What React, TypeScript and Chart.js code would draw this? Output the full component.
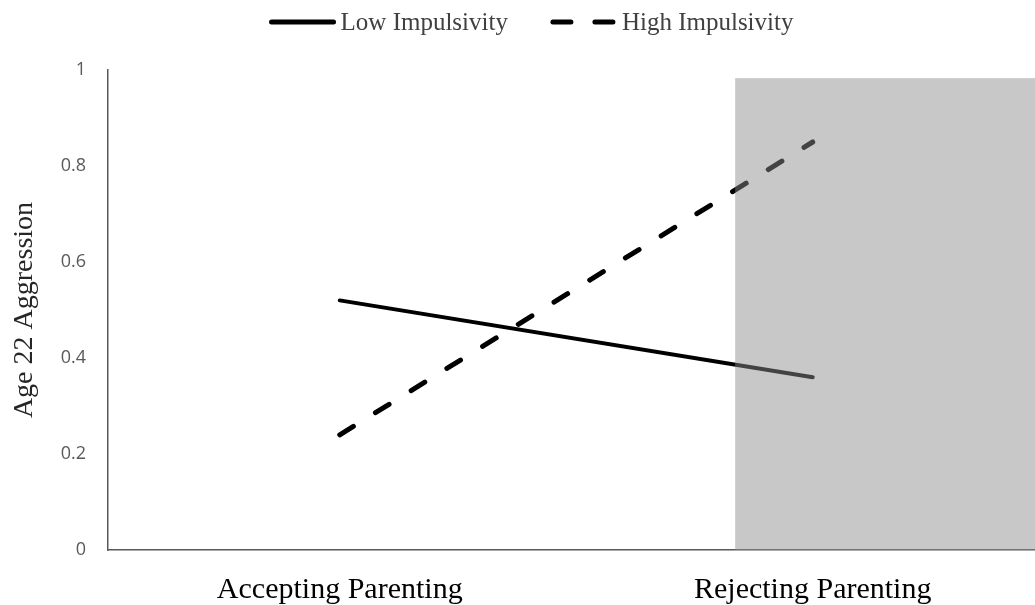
import React, { useEffect, useRef } from "react";
import { Chart, registerables } from "chart.js";

Chart.register(...registerables);

const categories = ["Accepting Parenting", "Rejecting Parenting"];
const xPositions = [0, 1];
const lowImpulsivity = [0.52, 0.36];
const highImpulsivity = [0.24, 0.85];
const yTicks = [0, 0.2, 0.4, 0.6, 0.8, 1];
const shadeX = [0.836, 1.47];
const shadeY = [0, 0.983];

const SERIF = "'Liberation Serif', 'Times New Roman', serif";

const shadePlugin = {
  id: "shade",
  afterDatasetsDraw(chart: any) {
    const { ctx, scales } = chart;
    const x = scales.x, y = scales.y;
    const x0 = x.getPixelForValue(shadeX[0]);
    const x1 = x.getPixelForValue(shadeX[1]);
    const y0 = y.getPixelForValue(shadeY[1]);
    const y1 = y.getPixelForValue(shadeY[0]);
    ctx.save();
    ctx.fillStyle = "rgba(141,141,141,0.48)";
    ctx.fillRect(x0, y0, x1 - x0 + 2, y1 - y0);
    ctx.restore();
  },
};

const legendPlugin = {
  id: "customLegend",
  afterDraw(chart: any) {
    const { ctx } = chart;
    const sample = 66;
    const gap = 5;
    const spacing = 43;
    const fontSize = 25;
    ctx.save();
    ctx.font = `${fontSize}px ${SERIF}`;
    const items = chart.data.datasets.map((ds: any) => ({
      ds,
      w: sample + gap + ctx.measureText(ds.label).width,
    }));
    const total = items.reduce((s: number, it: any) => s + it.w, 0) + spacing * (items.length - 1);
    let x = (chart.width - total) / 2 + 14;
    const cy = 22;
    items.forEach((it: any) => {
      const ds = it.ds;
      ctx.beginPath();
      ctx.lineWidth = 5;
      ctx.strokeStyle = ds.borderColor;
      ctx.lineCap = ds.borderCapStyle || "butt";
      ctx.setLineDash(ds.borderDash ? [18, 24] : []);
      ctx.moveTo(x + 2, cy);
      ctx.lineTo(x + sample - 2, cy);
      ctx.stroke();
      ctx.setLineDash([]);
      ctx.fillStyle = "#404040";
      ctx.textBaseline = "middle";
      ctx.textAlign = "left";
      ctx.fillText(ds.label, x + sample + gap, cy + 1);
      x += it.w + spacing;
    });
    ctx.restore();
  },
};

export default function App() {
  const ref = useRef<HTMLCanvasElement>(null);
  useEffect(() => {
    if (!ref.current) return;
    const chart = new Chart(ref.current, {
      type: "line",
      data: {
        datasets: [
          {
            label: "Low Impulsivity",
            data: xPositions.map((x, i) => ({ x, y: lowImpulsivity[i] })),
            borderColor: "#000000",
            backgroundColor: "#000000",
            borderWidth: 4,
            pointRadius: 0,
            borderCapStyle: "round",
          },
          {
            label: "High Impulsivity",
            data: xPositions.map((x, i) => ({ x, y: highImpulsivity[i] })),
            borderColor: "#000000",
            backgroundColor: "#000000",
            borderWidth: 5,
            borderDash: [16, 26],
            pointRadius: 0,
            borderCapStyle: "round",
          },
        ],
      },
      options: {
        animation: false,
        responsive: true,
        maintainAspectRatio: false,
        layout: { padding: { left: 0, right: 0, top: 70, bottom: 0 } },
        plugins: {
          tooltip: { enabled: false },
          legend: { display: false },
        },
        scales: {
          x: {
            type: "linear",
            min: -0.49,
            max: 1.47,
            grid: { display: false },
            border: { display: true, color: "#595959", width: 1.5 },
            afterBuildTicks: (scale: any) => {
              scale.ticks = xPositions.map((v) => ({ value: v }));
            },
            afterFit: (scale: any) => {
              scale.height = 55;
            },
            ticks: {
              autoSkip: false,
              maxRotation: 0,
              padding: 14,
              color: "#000000",
              font: { family: SERIF, size: 30 },
              callback: (v: any) => {
                const i = xPositions.indexOf(Number(v));
                return i >= 0 ? categories[i] : "";
              },
            },
          },
          y: {
            type: "linear",
            min: 0,
            max: 1,
            grid: { display: false },
            border: { display: true, color: "#595959", width: 1.5 },
            afterBuildTicks: (scale: any) => {
              scale.ticks = yTicks.map((v) => ({ value: v }));
            },
            afterFit: (scale: any) => {
              scale.width = 108;
            },
            ticks: {
              padding: 14,
              color: "#595959",
              font: { family: "'Open Sans', 'Noto Sans', sans-serif", size: 18 },
              callback: (v: any) => String(Number(v)),
            },
            title: {
              display: true,
              text: "Age 22 Aggression",
              color: "#262626",
              padding: { top: 8, bottom: 0 },
              font: { family: SERIF, size: 28 },
            },
          },
        },
      },
      plugins: [shadePlugin, legendPlugin],
    });
    return () => chart.destroy();
  }, []);
  return (
    <div style={{ position: "fixed", left: 0, top: 0, width: 1035, height: 605, background: "#ffffff" }}>
      <canvas ref={ref} />
    </div>
  );
}
